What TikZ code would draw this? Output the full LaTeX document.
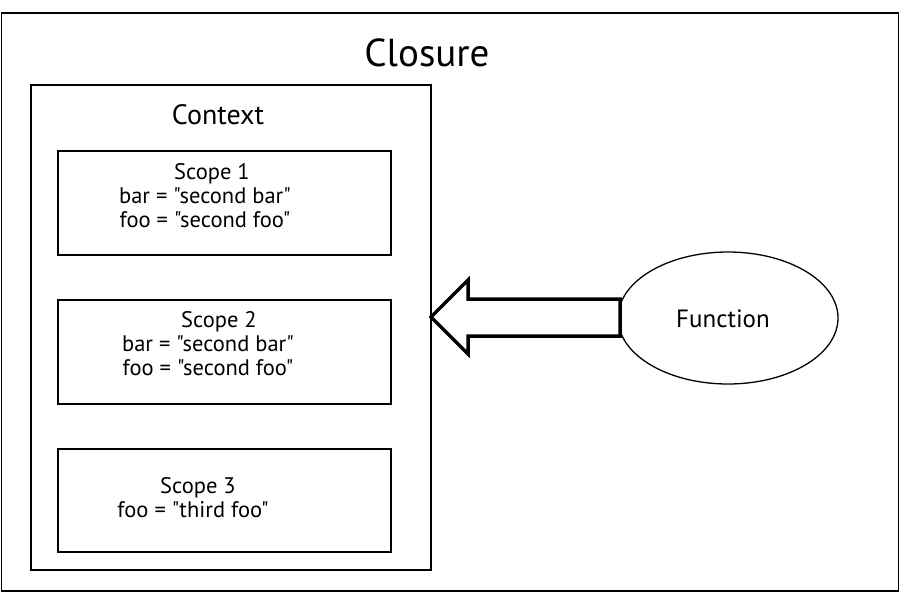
\documentclass[tikz,border=0pt]{standalone}
\usepackage{fontspec}
\setmainfont{PT Sans}[Ligatures=TeXOff]
\usetikzlibrary{shapes.geometric}
\begin{document}
\begin{tikzpicture}[x=1pt,y=-1pt,
  box/.style={draw=black,line width=1.3pt},
  lbl/.style={font=\fontsize{22.5}{24}\selectfont,align=center,inner sep=0pt},
  blockarrow/.style={draw=black,line width=3.5pt,fill=white,line join=miter}]
\useasboundingbox (0,0) rectangle (900,602);
\draw[box,line width=1.6pt] (1.5,13) rectangle (898.5,591);
\node[font=\fontsize{39}{42}\selectfont,inner sep=0pt] (closure) at (427,53) {Closure};
\draw[box] (31,85) rectangle (431,570);
\node[font=\fontsize{28}{30}\selectfont,inner sep=0pt] (context) at (218,115) {Context};
\draw[box] (58,151) rectangle (391,255);
\draw[box] (58,300) rectangle (391,404);
\draw[box] (58,449) rectangle (391,552);
\node[lbl] (s1) at (205,196) {\hspace*{14pt}Scope 1\\bar = "second bar"\\foo = "second foo"};
\node[lbl] (s2) at (208,344) {\hspace*{22pt}Scope 2\\bar = "second bar"\\foo = "second foo"};
\node[lbl] (s3) at (193,498) {\hspace*{10pt}Scope 3\\foo = "third foo"};
\node[draw=black,line width=1.3pt,ellipse,minimum width=220pt,minimum height=132pt,inner sep=0pt] (func) at (728,318) {};
\node[font=\fontsize{25}{28}\selectfont,inner sep=0pt] (ftext) at (723,319) {Function};
\coordinate (tip) at (431,317);
\draw[blockarrow] (tip) -- (468,280) -- (468,299) -- (620,299) -- (620,336) -- (468,336) -- (468,354) -- cycle;
\end{tikzpicture}
\end{document}
